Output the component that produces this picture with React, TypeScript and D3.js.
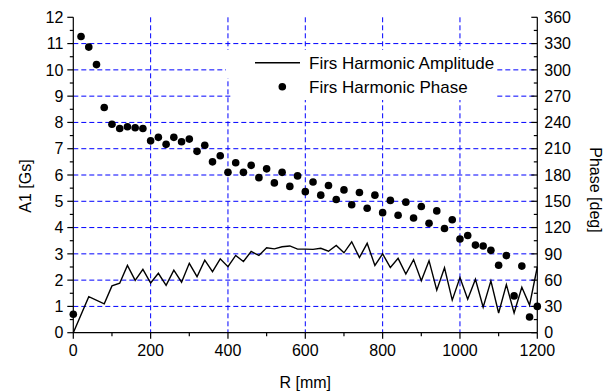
import React from "react";
import * as d3 from "d3";

// amplitude line (R in mm, A1 in Gs)
const ampR = [0, 40, 80, 100, 120, 140, 160, 180, 200, 220, 240, 260, 280, 300, 320, 340, 360, 380, 400,
  420, 440, 460, 480, 500, 520, 540, 560, 580, 600, 620, 640, 660, 680, 700, 720, 740, 760, 780, 800,
  820, 840, 860, 880, 900, 920, 940, 960, 980, 1000, 1020, 1040, 1060, 1080, 1100, 1120, 1140, 1160, 1180, 1200];
const ampA = [0, 1.37, 1.1, 1.78, 1.88, 2.56, 1.99, 2.41, 1.89, 2.26, 1.8, 2.38, 1.92, 2.64, 2.13, 2.76, 2.32, 2.81, 2.51,
  2.94, 2.71, 3.09, 2.94, 3.23, 3.19, 3.27, 3.3, 3.18, 3.18, 3.17, 3.21, 3.1, 3.32, 3.04, 3.46, 2.86, 3.4, 2.56, 3.0,
  2.48, 2.83, 2.23, 2.78, 1.98, 2.74, 1.62, 2.47, 1.24, 2.1, 1.27, 2.03, 0.97, 1.97, 0.75, 1.83, 0.75, 1.73, 1.05, 2.5];

// phase points (R in mm, phase in deg)
const phaseR = [0, 20, 40, 60, 80, 100, 120, 140, 160, 180, 200, 220, 240, 260, 280, 300, 320, 340, 360, 380, 400,
  420, 440, 460, 480, 500, 520, 540, 560, 580, 600, 620, 640, 660, 680, 700, 720, 740, 760, 780, 800,
  820, 840, 860, 880, 900, 920, 940, 960, 980, 1000, 1020, 1040, 1060, 1080, 1100, 1120, 1140, 1160, 1180, 1200];
const phaseDeg = [21, 338, 326, 306, 257, 238, 233, 235, 234, 233, 219, 223, 215, 223, 218, 221, 207, 214, 195, 202, 183,
  194, 183, 191, 177, 187, 171, 183, 167, 179, 161, 172, 157, 168, 152, 163, 146, 160, 142, 157, 137,
  151, 134, 149, 131, 144, 125, 139, 119, 129, 107, 111, 100, 99, 94, 77, 88, 42, 76, 18, 30];

const xTicks = [0, 200, 400, 600, 800, 1000, 1200];
const leftTicks = [0, 1, 2, 3, 4, 5, 6, 7, 8, 9, 10, 11, 12];
const rightTicks = [0, 30, 60, 90, 120, 150, 180, 210, 240, 270, 300, 330, 360];
const legendLabels = ["Firs Harmonic Amplitude", "Firs Harmonic Phase"];

const W = 608, H = 392;
const L = 73.3, R = 537.3, T = 17.3, B = 332.7;
const font = "'Liberation Sans', Arial, sans-serif";

export default function App() {
  const x = d3.scaleLinear().domain([0, 1200]).range([L, R]);
  const yA = d3.scaleLinear().domain([0, 12]).range([B, T]);
  const yP = d3.scaleLinear().domain([0, 360]).range([B, T]);

  const line = d3.line<number>()
    .x((d, i) => x(ampR[i]))
    .y(d => yA(d));

  const minorX = d3.range(0, 1201, 100);
  const minorL = d3.range(0, 12.01, 0.5);
  const minorR = d3.range(0, 361, 15);
  const blue = "#0000ff";

  return (
    <svg width={W} height={H} style={{ position: "absolute", left: 0, top: 0, background: "#fff" }}
      fontFamily={font}>
      {/* grid */}
      <g stroke={blue} strokeWidth={1} strokeDasharray="5,3">
        {leftTicks.filter(t => t > 0 && t < 12).map(t => (
          <line key={"h" + t} x1={L} x2={R} y1={yA(t)} y2={yA(t)} />
        ))}
        {xTicks.filter(t => t > 0 && t < 1200).map(t => (
          <line key={"v" + t} x1={x(t)} x2={x(t)} y1={T} y2={B} />
        ))}
      </g>
      {/* legend background */}
      <rect x={226} y={50} width={271} height={28} fill="#fff" />
      <rect x={233} y={77} width={264} height={23} fill="#fff" />

      {/* amplitude line */}
      <path d={line(ampA) || ""} fill="none" stroke="#000" strokeWidth={1.4} />
      {/* phase points */}
      <g fill="#000">
        {phaseDeg.map((p, i) => (
          <circle key={i} cx={x(phaseR[i])} cy={yP(p)} r={3.8} />
        ))}
      </g>

      {/* axes */}
      <g stroke="#000" strokeWidth={1.2}>
        <line x1={L} x2={R} y1={B} y2={B} />
        <line x1={L} x2={L} y1={T} y2={B} />
        <line x1={R} x2={R} y1={T} y2={B} />
        {minorX.map(t => (
          <line key={"xt" + t} x1={x(t)} x2={x(t)} y1={B} y2={B + (t % 200 === 0 ? 6 : 3.5)} />
        ))}
        {minorL.map(t => (
          <line key={"lt" + t} x1={L} x2={L - (t % 1 === 0 ? 6 : 3.5)} y1={yA(t)} y2={yA(t)} />
        ))}
        {minorR.map(t => (
          <line key={"rt" + t} x1={R} x2={R - (t % 30 === 0 ? 6 : 3.5)} y1={yP(t)} y2={yP(t)} />
        ))}
      </g>

      {/* tick labels */}
      <g fontSize={16} fill="#000">
        {xTicks.map(t => (
          <text key={"xl" + t} x={x(t)} y={B + 23} textAnchor="middle">{t}</text>
        ))}
        {leftTicks.map(t => (
          <text key={"ll" + t} x={L - 10} y={yA(t) + 5.7} textAnchor="end">{t}</text>
        ))}
        {rightTicks.map(t => (
          <text key={"rl" + t} x={R + 7} y={yP(t) + 5.7} textAnchor="start">{t}</text>
        ))}
      </g>

      {/* axis titles */}
      <text x={(L + R) / 2} y={388} textAnchor="middle" fontSize={16}>R [mm]</text>
      <text transform={`translate(31,186) rotate(-90)`} textAnchor="middle" fontSize={16}>A1 [Gs]</text>
      <text transform={`translate(590,190) rotate(90)`} textAnchor="middle" fontSize={16}>Phase [deg]</text>

      {/* legend */}
      <line x1={255} x2={300} y1={62.7} y2={62.7} stroke="#000" strokeWidth={1.4} />
      <text x={309} y={68.8} fontSize={17}>{legendLabels[0]}</text>
      <circle cx={282.3} cy={86.7} r={3.8} fill="#000" />
      <text x={309} y={92.8} fontSize={17}>{legendLabels[1]}</text>
    </svg>
  );
}
